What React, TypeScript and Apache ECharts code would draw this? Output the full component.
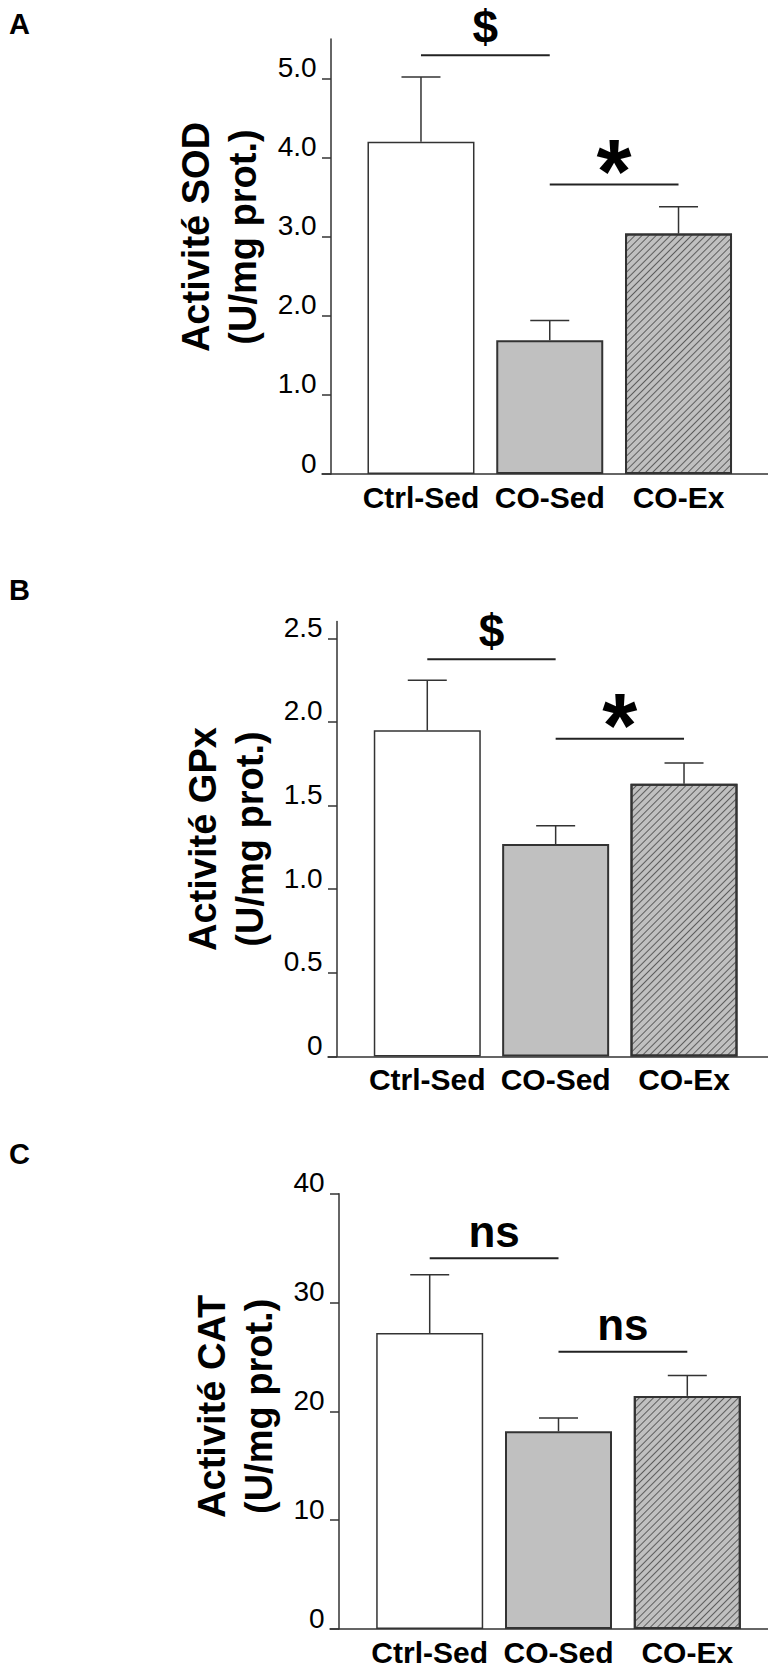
import React, { useEffect, useRef } from 'react';
import * as echarts from 'echarts';

// ---------- data ----------
const categories = ['Ctrl-Sed', 'CO-Sed', 'CO-Ex'];

const sodMeans = [4.2, 1.69, 3.04];
const sodErrors = [0.82, 0.25, 0.34];
const sodTicks = [0, 1, 2, 3, 4, 5];
const sodSig = [[0, 1, 5.295], [1, 2, 3.66]];
const sodSigLabels = ['$', '*'];

const gpxMeans = [1.95, 1.27, 1.63];
const gpxErrors = [0.3, 0.11, 0.125];
const gpxTicks = [0, 0.5, 1, 1.5, 2, 2.5];
const gpxSig = [[0, 1, 2.375], [1, 2, 1.9]];
const gpxSigLabels = ['$', '*'];

const catMeans = [27.2, 18.16, 21.42];
const catErrors = [5.35, 1.24, 1.88];
const catTicks = [0, 10, 20, 30, 40];
const catSig = [[0, 1, 34.07], [1, 2, 25.47]];
const catSigLabels = ['ns', 'ns'];

// ---------- styles / layout ----------
const FONT = '"Liberation Sans", Arial, Helvetica, sans-serif';
const AXIS_COLOR = '#333';

const barStyles: any[] = [
  { color: '#ffffff', borderColor: '#333', borderWidth: 1.5 },
  { color: '#c0c0c0', borderColor: '#333', borderWidth: 2 },
  {
    color: '#c0c0c0',
    borderColor: '#333',
    borderWidth: 2,
    decal: {
      symbol: 'rect',
      symbolSize: 1,
      color: 'rgba(60,60,60,0.75)',
      dashArrayX: [1, 0],
      dashArrayY: [1, 3.2],
      rotation: -Math.PI / 4,
    },
  },
];

const sigStyles: Record<string, { fontSize: number; dy: number }> = {
  $: { fontSize: 46, dy: 28.5 },
  '*': { fontSize: 90, dy: 13 },
  ns: { fontSize: 44, dy: 27 },
};

const fmt1 = (v: number) => (v === 0 ? '0' : v.toFixed(1));
const fmt0 = (v: number) => String(v);

const panels = [
  {
    letter: 'A', letterY: 24,
    title: 'Activité SOD\n(U/mg prot.)',
    means: sodMeans, errors: sodErrors, ticks: sodTicks, max: 5.5, fmt: fmt1,
    sig: sodSig, sigLabels: sodSigLabels,
    top: 39, height: 435, axisX: 331, left: 356.6, right: 25.1, nameGap: 65, nameShift: 19.5,
  },
  {
    letter: 'B', letterY: 590,
    title: 'Activité GPx\n(U/mg prot.)',
    means: gpxMeans, errors: gpxErrors, ticks: gpxTicks, max: 2.6, fmt: fmt1,
    sig: gpxSig, sigLabels: gpxSigLabels,
    top: 621.6, height: 434.9, axisX: 337, left: 363.1, right: 19.8, nameGap: 64, nameShift: 0,
  },
  {
    letter: 'C', letterY: 1154,
    title: 'Activité CAT\n(U/mg prot.)',
    means: catMeans, errors: catErrors, ticks: catTicks, max: 40, fmt: fmt0,
    sig: catSig, sigLabels: catSigLabels,
    top: 1193.7, height: 435.4, axisX: 339, left: 365.3, right: 16.3, nameGap: 57, nameShift: 5,
  },
];

function buildOption() {
  const grid: any[] = [];
  const xAxis: any[] = [];
  const yAxis: any[] = [];
  const series: any[] = [];
  const graphic: any[] = [];
  const n = panels.length;

  panels.forEach((p, i) => {
    grid[i] = { left: p.left, right: p.right, top: p.top, height: p.height };
    // baseline grid (x-axis line that runs to page edge)
    grid[n + i] = { left: p.axisX - 9, right: 0, top: p.top, height: p.height };

    xAxis[i] = {
      type: 'category',
      gridIndex: i,
      data: categories,
      axisLine: { show: false },
      axisTick: { show: false },
      axisLabel: {
        interval: 0,
        hideOverlap: false,
        fontFamily: FONT,
        fontSize: 30,
        fontWeight: 'bold',
        color: '#000',
        margin: 8,
        lineHeight: 30,
      },
    };
    xAxis[n + i] = {
      type: 'value',
      gridIndex: n + i,
      min: 0,
      max: 1,
      axisLine: { show: true, onZero: false, lineStyle: { color: AXIS_COLOR, width: 1.5 } },
      axisTick: { show: false },
      axisLabel: { show: false },
      splitLine: { show: false },
    };

    yAxis[i] = {
      type: 'value',
      gridIndex: i,
      min: 0,
      max: p.max,
      offset: p.left - p.axisX,
      axisLine: { show: true, onZero: false, lineStyle: { color: AXIS_COLOR, width: 1.5 } },
      axisTick: { show: true, length: 9, customValues: p.ticks, lineStyle: { color: AXIS_COLOR, width: 1.5 } },
      axisLabel: {
        customValues: p.ticks,
        formatter: p.fmt,
        fontFamily: FONT,
        fontSize: 28,
        color: '#000',
        margin: 14.3,
        verticalAlign: 'bottom',
        lineHeight: 22,
      },
      splitLine: { show: false },
      name: p.title,
      nameLocation: 'middle',
      nameRotate: 90,
      nameGap: p.nameGap,
      nameTextStyle: {
        fontFamily: FONT,
        fontSize: 38,
        fontWeight: 'bold',
        color: '#000',
        lineHeight: 46.5,
        padding: [0, 0, 0, p.nameShift * 2],
      },
    };
    yAxis[n + i] = { type: 'value', gridIndex: n + i, show: false, min: 0, max: 1 };

    series.push({
      type: 'bar',
      xAxisIndex: i,
      yAxisIndex: i,
      barWidth: 107,
      data: p.means.map((v, j) => ({ value: v, itemStyle: barStyles[j] })),
      z: 2,
    });

    series.push({
      type: 'custom',
      xAxisIndex: i,
      yAxisIndex: i,
      z: 3,
      clip: false,
      encode: { x: 0, y: 1 },
      data: p.means.map((m, j) => [j, m + p.errors[j], m]),
      renderItem: (params: any, api: any) => {
        const x = api.value(0);
        const top = api.coord([x, api.value(1)]);
        const base = api.coord([x, api.value(2)]);
        const st = { stroke: AXIS_COLOR, lineWidth: 1.5 };
        return {
          type: 'group',
          children: [
            { type: 'line', shape: { x1: base[0], y1: base[1], x2: top[0], y2: top[1] }, style: st },
            { type: 'line', shape: { x1: top[0] - 19.5, y1: top[1], x2: top[0] + 19.5, y2: top[1] }, style: st },
          ],
        };
      },
    });

    const labels = p.sigLabels;
    series.push({
      type: 'custom',
      xAxisIndex: i,
      yAxisIndex: i,
      z: 4,
      clip: false,
      encode: { x: [0, 1], y: 2 },
      data: p.sig,
      renderItem: (params: any, api: any) => {
        const y = api.value(2);
        const a = api.coord([api.value(0), y]);
        const b = api.coord([api.value(1), y]);
        const label = labels[params.dataIndex];
        const ss = sigStyles[label];
        return {
          type: 'group',
          children: [
            { type: 'line', shape: { x1: a[0], y1: a[1], x2: b[0], y2: b[1] }, style: { stroke: '#222', lineWidth: 2 } },
            {
              type: 'text',
              x: (a[0] + b[0]) / 2,
              y: a[1] - ss.dy,
              style: {
                text: label,
                fontFamily: FONT,
                fontSize: ss.fontSize,
                fontWeight: 'bold',
                fill: '#000',
                align: 'center',
                verticalAlign: 'middle',
              },
            },
          ],
        };
      },
    });

    graphic.push({
      type: 'text',
      x: 9,
      y: p.letterY,
      style: {
        text: p.letter,
        fontFamily: FONT,
        fontSize: 29,
        fontWeight: 'bold',
        fill: '#000',
        align: 'left',
        verticalAlign: 'middle',
      },
    });
  });

  return {
    animation: false,
    backgroundColor: '#ffffff',
    textStyle: { fontFamily: FONT },
    grid,
    xAxis,
    yAxis,
    series,
    graphic,
  };
}

export default function App() {
  const ref = useRef<HTMLDivElement>(null);
  useEffect(() => {
    if (!ref.current) return;
    const chart = echarts.init(ref.current, null, { renderer: 'svg' });
    chart.setOption(buildOption() as any);
    return () => chart.dispose();
  }, []);
  return (
    <div
      ref={ref}
      style={{ position: 'absolute', left: 0, top: 0, width: 768, height: 1667, background: '#fff' }}
    />
  );
}
